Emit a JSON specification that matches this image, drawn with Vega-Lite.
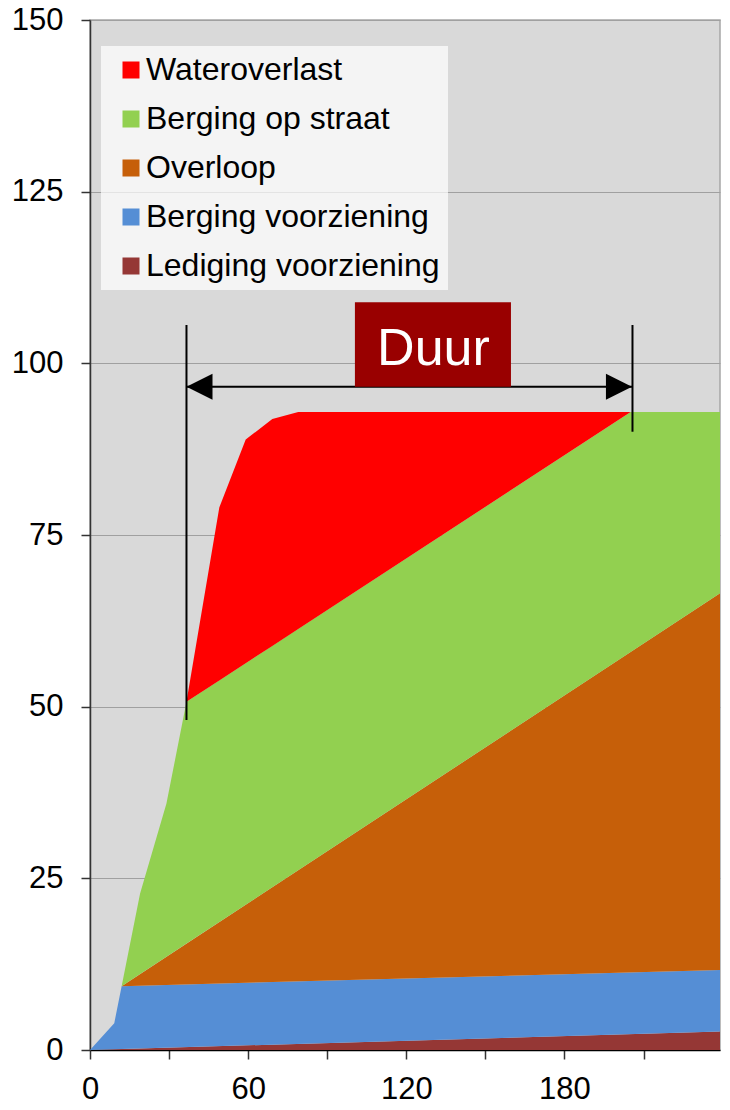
{
  "$schema": "https://vega.github.io/schema/vega-lite/v6.json",
  "width": 630,
  "height": 1030,
  "autosize": {"type": "none"},
  "padding": {"left": 90, "top": 20, "right": 10, "bottom": 60},
  "background": "white",
  "config": {
    "view": {"fill": "#d9d9d9", "stroke": "#a6a6a6", "strokeWidth": 1.5},
    "font": "Liberation Sans",
    "axis": {
      "labelFont": "Liberation Sans",
      "labelFontSize": 31,
      "labelColor": "black",
      "labelFlush": false,
      "tickColor": "#333333",
      "tickSize": 9,
      "tickWidth": 1.5,
      "domainColor": "#333333",
      "domainWidth": 1.5,
      "gridColor": "#a0a0a0",
      "gridWidth": 1
    }
  },
  "datasets": {
    "areas": [
      {"series": "Lediging voorziening", "x": 0, "lo": 0, "hi": 0},
      {"series": "Lediging voorziening", "x": 239, "lo": 0, "hi": 2.7},
      {"series": "Berging voorziening", "x": 0, "lo": 0, "hi": 0},
      {"series": "Berging voorziening", "x": 9.2, "lo": 0.104, "hi": 3.9},
      {"series": "Berging voorziening", "x": 12, "lo": 0.136, "hi": 9.3},
      {"series": "Berging voorziening", "x": 239, "lo": 2.7, "hi": 11.65},
      {"series": "Overloop", "x": 12, "lo": 9.3, "hi": 9.3},
      {"series": "Overloop", "x": 239, "lo": 11.65, "hi": 66.5},
      {"series": "Berging op straat", "x": 12, "lo": 9.3, "hi": 9.3},
      {"series": "Berging op straat", "x": 19, "lo": 11.06, "hi": 22.8},
      {"series": "Berging op straat", "x": 29, "lo": 13.58, "hi": 35.9},
      {"series": "Berging op straat", "x": 36.6, "lo": 15.5, "hi": 50.7},
      {"series": "Berging op straat", "x": 205.1, "lo": 57.96, "hi": 92.9},
      {"series": "Berging op straat", "x": 239, "lo": 66.5, "hi": 92.9},
      {"series": "Wateroverlast", "x": 36.6, "lo": 50.7, "hi": 50.7},
      {"series": "Wateroverlast", "x": 49.05, "lo": 53.82, "hi": 79.0},
      {"series": "Wateroverlast", "x": 59.07, "lo": 56.33, "hi": 88.9},
      {"series": "Wateroverlast", "x": 69.16, "lo": 58.85, "hi": 91.9},
      {"series": "Wateroverlast", "x": 79.0, "lo": 61.32, "hi": 92.9},
      {"series": "Wateroverlast", "x": 205.1, "lo": 92.9, "hi": 92.9}
    ],
    "vlines": [
      {"x": 36.6, "y": 48.06, "y2": 105.58},
      {"x": 205.8, "y": 90.04, "y2": 105.58}
    ],
    "arrow": [
      {"x": 36.6, "x2": 205.6, "y": 96.6}
    ],
    "heads": [
      {"x": 36.6, "y": 96.6, "dir": "left"},
      {"x": 205.6, "y": 96.6, "dir": "right"}
    ],
    "box": [
      {"x": 100.5, "x2": 159.7, "y": 96.6, "y2": 108.9}
    ],
    "label": [
      {"x": 130.3, "y": 99.8, "text": "Duur"}
    ]
  },
  "layer": [
    {
      "data": {"name": "areas"},
      "mark": {"type": "area", "opacity": 1, "interpolate": "linear"},
      "encoding": {
        "x": {
          "field": "x", "type": "quantitative", "title": null,
          "scale": {"domain": [0, 239], "nice": false, "zero": false},
          "axis": {
            "title": null,
            "values": [0, 30, 60, 90, 120, 150, 180, 210],
            "labelExpr": "datum.value % 60 == 0 ? datum.label : ''",
            "labelPadding": 15,
            "labelFlush": false,
            "grid": false,
            "domainColor": "#000000"
          }
        },
        "y": {
          "field": "hi", "type": "quantitative", "stack": null, "title": null,
          "scale": {"domain": [0, 150], "nice": false},
          "axis": {
            "title": null,
            "values": [0, 25, 50, 75, 100, 125, 150],
            "labelPadding": 18,
            "labelFlush": false,
            "grid": true
          }
        },
        "y2": {"field": "lo"},
        "color": {
          "field": "series", "type": "nominal",
          "scale": {
            "domain": ["Wateroverlast", "Berging op straat", "Overloop", "Berging voorziening", "Lediging voorziening"],
            "range": ["#ff0000", "#92d050", "#c65f09", "#558ed5", "#953735"]
          },
          "legend": {
            "orient": "none",
            "legendX": 11,
            "legendY": 26,
            "title": null,
            "symbolType": "square",
            "symbolSize": 289,
            "symbolStrokeWidth": 0,
            "symbolOpacity": 1,
            "symbolOffset": 6,
            "labelFont": "Liberation Sans",
            "labelFontSize": 32,
            "labelColor": "black",
            "labelLimit": 500,
            "labelOffset": -1,
            "rowPadding": 17,
            "padding": 8,
            "fillColor": "rgba(255,255,255,0.7)"
          }
        }
      }
    },
    {
      "data": {"name": "vlines"},
      "mark": {"type": "rule", "color": "black", "strokeWidth": 2},
      "encoding": {
        "x": {"field": "x", "type": "quantitative", "title": null},
        "y": {"field": "y", "type": "quantitative", "title": null},
        "y2": {"field": "y2"}
      }
    },
    {
      "data": {"name": "arrow"},
      "mark": {"type": "rule", "color": "black", "strokeWidth": 2},
      "encoding": {
        "x": {"field": "x", "type": "quantitative", "title": null},
        "x2": {"field": "x2"},
        "y": {"field": "y", "type": "quantitative", "title": null}
      }
    },
    {
      "data": {"name": "heads"},
      "mark": {"type": "point", "filled": true, "color": "black", "opacity": 1, "size": 676, "strokeWidth": 0},
      "encoding": {
        "x": {"field": "x", "type": "quantitative", "title": null},
        "y": {"field": "y", "type": "quantitative", "title": null},
        "shape": {
          "field": "dir", "type": "nominal",
          "scale": {"domain": ["left", "right"], "range": ["M0,0L2,-1L2,1Z", "M0,0L-2,-1L-2,1Z"]},
          "legend": null
        }
      }
    },
    {
      "data": {"name": "box"},
      "mark": {"type": "rect", "color": "#990000", "opacity": 1},
      "encoding": {
        "x": {"field": "x", "type": "quantitative", "title": null},
        "x2": {"field": "x2"},
        "y": {"field": "y", "type": "quantitative", "title": null},
        "y2": {"field": "y2"}
      }
    },
    {
      "data": {"name": "label"},
      "mark": {"type": "text", "color": "white", "font": "Liberation Sans", "fontSize": 52, "align": "center", "baseline": "alphabetic"},
      "encoding": {
        "x": {"field": "x", "type": "quantitative", "title": null},
        "y": {"field": "y", "type": "quantitative", "title": null},
        "text": {"field": "text"}
      }
    }
  ]
}
